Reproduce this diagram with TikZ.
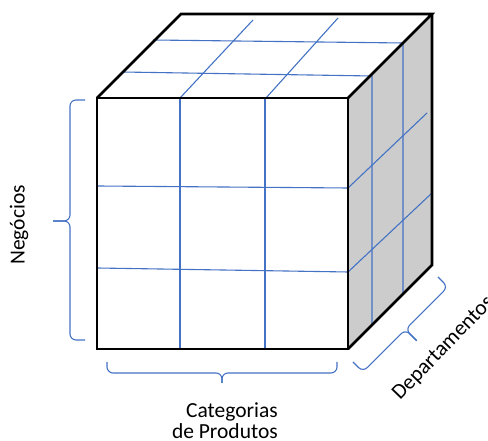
\documentclass[tikz,border=0pt]{standalone}
\usepackage{fontspec}
\setmainfont{Carlito}
\definecolor{gridblue}{HTML}{4472C4}
\definecolor{sidegray}{HTML}{CCCCCC}
\begin{document}
\begin{tikzpicture}[x=1pt,y=1pt,
  edge/.style={line width=2.6pt, black, line join=miter},
  gridline/.style={gridblue, line width=1.1pt},
  bracket/.style={gridblue, line width=1.1pt, rounded corners=6pt},
  axistext/.style={font=\fontsize{21.5}{21}\selectfont, inner sep=0pt, text=black}]
\useasboundingbox (0,0) rectangle (488,441);

% cube corners
\coordinate (ftl) at (97,343);
\coordinate (ftr) at (348,343);
\coordinate (fbl) at (97,92);
\coordinate (fbr) at (348,92);
\coordinate (btl) at (181,427);
\coordinate (btr) at (432,427);
\coordinate (bbr) at (432,176);

% faces
\fill[sidegray] (ftr) -- (btr) -- (bbr) -- (fbr) -- cycle;
\fill[white] (ftl) -- (ftr) -- (fbr) -- (fbl) -- cycle;
\fill[white] (ftl) -- (btl) -- (btr) -- (ftr) -- cycle;

% front grid
\draw[gridline] (180,343) -- (180,92);
\draw[gridline] (265,343) -- (265,92);
\draw[gridline] (97,255) -- (348,253) -- (427,328);
\draw[gridline] (97,173) -- (348,169) -- (432,248);

% top grid
\draw[gridline] (153,401) -- (403,398) -- (403,146);
\draw[gridline] (122,369) -- (372,365) -- (372,116);
\draw[gridline] (180,343) -- (253,421);
\draw[gridline] (266,343) -- (338,423);

% cube outline
\draw[edge] (ftl) -- (ftr) -- (fbr) -- (fbl) -- cycle;
\draw[edge] (ftl) -- (btl) -- (btr) -- (ftr);
\draw[edge] (btr) -- (bbr) -- (fbr);

% left brace
\draw[bracket] (85,341) -- (70,341) -- (70,220) -- (53,220);
\draw[bracket] (85,101) -- (70,101) -- (70,220) -- (53,220);
% bottom brace
\draw[bracket] (107,79) -- (107,68) -- (222,68) -- (222,58);
\draw[bracket] (337,79) -- (337,68) -- (222,68) -- (222,58);
% depth brace
\begin{scope}[shift={(353,79)}, rotate=45]
  \draw[bracket] (0,0) -- (0,-14) -- (60.1,-14) -- (60.1,-30);
  \draw[bracket] (120.2,0) -- (120.2,-14) -- (60.1,-14) -- (60.1,-30);
\end{scope}

% axis labels
\node[axistext, rotate=90] (neg) at (19,216) {Negócios};
\node[axistext, align=right, anchor=north east] (cat) at (278,38.5) {Categorias\\de Produtos};
\node[axistext, rotate=46, anchor=base west] (dep) at (400,40) {Departamentos};
\end{tikzpicture}
\end{document}
